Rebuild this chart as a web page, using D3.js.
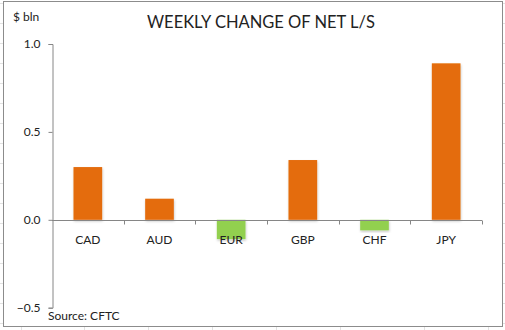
<!DOCTYPE html>
<html>
<head>
<meta charset="utf-8">
<script src="https://cdn.jsdelivr.net/npm/d3@7"></script>
<style>
  html, body { margin: 0; padding: 0; background: #fff; }
  svg { display: block; }
  text { font-family: Lato, "Open Sans", sans-serif; fill: #222; }
</style>
</head>
<body>
<svg id="chart" width="505" height="330"></svg>
<script>
// Weekly change of net long/short positions, $ bln
const categories = ["CAD", "AUD", "EUR", "GBP", "CHF", "JPY"];
const values = [0.30, 0.12, -0.11, 0.34, -0.06, 0.89];
const yTicks = [-0.5, 0.0, 0.5, 1.0];

const svg = d3.select("#chart");
const W = 505, H = 330;

// worksheet grid around the chart object
const grid = svg.append("g").attr("stroke", "#e2e2e2").attr("stroke-width", 1);
d3.range(3, H, 20).forEach(y => {
  grid.append("line").attr("x1", 0).attr("x2", 3).attr("y1", y + 0.5).attr("y2", y + 0.5);
  grid.append("line").attr("x1", 503).attr("x2", W).attr("y1", y + 0.5).attr("y2", y + 0.5);
});
[21, 84, 148, 212, 276, 340, 424, 488].forEach(x => {
  grid.append("line").attr("x1", x + 0.5).attr("x2", x + 0.5).attr("y1", 327).attr("y2", H);
});

// chart area frame
svg.append("rect")
  .attr("x", 3.5).attr("y", 1.5).attr("width", 499).attr("height", 325)
  .attr("fill", "#fff").attr("stroke", "#8c8c8c").attr("stroke-width", 1);

const defs = svg.append("defs");
const f = defs.append("filter").attr("id", "shadow")
  .attr("x", "-20%").attr("y", "-20%").attr("width", "140%").attr("height", "140%");
f.append("feDropShadow").attr("dx", 0.5).attr("dy", 1.5).attr("stdDeviation", 1.2)
  .attr("flood-color", "#000").attr("flood-opacity", 0.22);

const left = 52, right = 482;
const x = d3.scaleBand().domain(categories).range([left, right])
  .paddingInner(0.6).paddingOuter(0.3);
const y = d3.scaleLinear().domain([-0.5, 1.0]).range([307.7, 44]);

// title and unit label
svg.append("text").attr("x", 261).attr("y", 28).attr("text-anchor", "middle")
  .attr("font-size", 16.5).text("WEEKLY CHANGE OF NET L/S");
svg.append("text").attr("x", 13).attr("y", 21).attr("font-size", 12).text("$ bln");

// bars
svg.append("g").selectAll("rect").data(categories).join("rect")
  .attr("x", d => x(d))
  .attr("width", x.bandwidth())
  .attr("y", (d, i) => y(Math.max(0, values[i])))
  .attr("height", (d, i) => Math.abs(y(values[i]) - y(0)))
  .attr("fill", (d, i) => values[i] >= 0 ? "#E46C0A" : "#92D050")
  .attr("filter", "url(#shadow)");

// y axis
const yAxis = svg.append("g").attr("transform", `translate(${left + 0.5},0)`)
  .call(d3.axisLeft(y).tickValues(yTicks).tickFormat(d3.format(".1f")).tickSize(4).tickPadding(8));
yAxis.select(".domain").attr("stroke", "#868686");
yAxis.selectAll(".tick line").attr("stroke", "#868686");
yAxis.selectAll("text").attr("font-size", 12).style("font-family", "Lato, sans-serif").attr("fill", "#222");

// category axis along zero
const step = x.step();
const zero = Math.round(y(0)) + 0.5;
const xAxis = svg.append("g");
xAxis.append("line").attr("x1", left).attr("x2", right).attr("y1", zero).attr("y2", zero)
  .attr("stroke", "#868686");
d3.range(1, categories.length + 1).forEach(k => {
  const xx = Math.round(left + k * step) + 0.5;
  xAxis.append("line").attr("x1", xx).attr("x2", xx).attr("y1", zero).attr("y2", zero + 4)
    .attr("stroke", "#868686");
});
xAxis.selectAll("text").data(categories).join("text")
  .attr("x", d => x(d) + x.bandwidth() / 2)
  .attr("y", zero + 23)
  .attr("text-anchor", "middle").attr("font-size", 12).text(d => d);

// source note
svg.append("text").attr("x", 48).attr("y", 320).attr("font-size", 12).text("Source: CFTC");
</script>
</body>
</html>
